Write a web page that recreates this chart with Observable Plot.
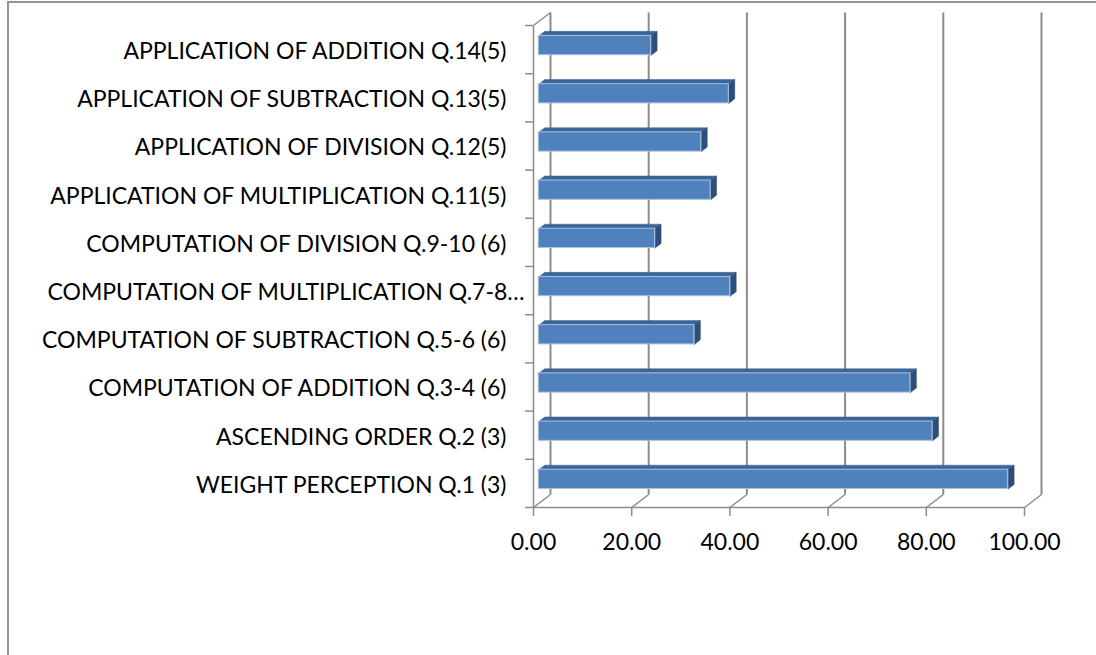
<!DOCTYPE html>
<html>
<head>
<meta charset="utf-8">
<script src="https://cdn.jsdelivr.net/npm/d3@7"></script>
<script src="https://cdn.jsdelivr.net/npm/@observablehq/plot@0.6"></script>
<style>
  html, body { margin: 0; padding: 0; background: #fff; overflow: hidden; }
  #frame { position: absolute; left: 7px; top: 1px; width: 1300px; height: 900px;
           border: 2px solid #959595; box-sizing: border-box; }
  #chart { position: absolute; left: 0; top: 0; }
</style>
</head>
<body>
<div id="frame"></div>
<div id="chart"></div>
<script>
// Categories listed bottom to top, with the mean score (%) of each item
const categories = [
  "WEIGHT PERCEPTION Q.1 (3)",
  "ASCENDING ORDER Q.2 (3)",
  "COMPUTATION OF ADDITION Q.3-4 (6)",
  "COMPUTATION OF SUBTRACTION Q.5-6 (6)",
  "COMPUTATION OF MULTIPLICATION Q.7-8…",
  "COMPUTATION OF DIVISION Q.9-10 (6)",
  "APPLICATION OF MULTIPLICATION Q.11(5)",
  "APPLICATION OF DIVISION Q.12(5)",
  "APPLICATION OF SUBTRACTION Q.13(5)",
  "APPLICATION OF ADDITION Q.14(5)"
];
const scores = [95.6, 80.2, 75.7, 31.7, 39.0, 23.7, 35.0, 33.1, 38.7, 22.9];
const xTicks = [0, 20, 40, 60, 80, 100];

// 3D box: offset of the back wall relative to the front plane (data units)
const DEPTH_X = 3.46;
const DEPTH_Y = 0.27;
// bars sit between these depth fractions; half thickness in category units
const F0 = 0.31, F1 = 0.66, HALF = 0.2;
const Y0 = -0.5, Y1 = categories.length - 0.5;

const bars = categories.map((category, i) => ({category, i, value: scores[i]}));

const shift = (x, y, f, id) => ({id, x: x + f * DEPTH_X, y: y + f * DEPTH_Y});

const topFaces = bars.flatMap(d => {
  const y = d.i + HALF;
  return [shift(0, y, F0, d.i), shift(d.value, y, F0, d.i), shift(d.value, y, F1, d.i),
          shift(0, y, F1, d.i), shift(0, y, F0, d.i)];
});
const endFaces = bars.flatMap(d => {
  const lo = d.i - HALF, hi = d.i + HALF;
  return [shift(d.value, lo, F0, d.i), shift(d.value, hi, F0, d.i), shift(d.value, hi, F1, d.i),
          shift(d.value, lo, F1, d.i), shift(d.value, lo, F0, d.i)];
});

const boundaries = d3.range(categories.length + 1).map(k => k - 0.5);
const gridColor = "#8c8c8c";
const truncated = d => d.category.endsWith("…");
const FONT = 23;

const chart = Plot.plot({
  width: 1096,
  height: 655,
  marginLeft: 533,
  marginRight: 72,
  marginTop: 25,
  marginBottom: 148,
  style: {fontFamily: "Lato, 'Open Sans', sans-serif", fontSize: FONT + "px", color: "#000", background: "transparent"},
  x: {domain: [0, 100], axis: null},
  y: {domain: [Y0, Y1], axis: null},
  marks: [
    // back wall gridlines
    Plot.link(xTicks, {x1: d => d + DEPTH_X, x2: d => d + DEPTH_X, y1: Y0 + DEPTH_Y, y2: Y1 + DEPTH_Y,
      stroke: gridColor, strokeWidth: 2}),
    // floor diagonals
    Plot.link(xTicks, {x1: d => d, y1: Y0, x2: d => d + DEPTH_X, y2: Y0 + DEPTH_Y,
      stroke: gridColor, strokeWidth: 1.5}),
    // left wall: front edge and top diagonal
    Plot.link([0], {x1: 0, x2: 0, y1: Y0, y2: Y1, stroke: gridColor, strokeWidth: 1.5}),
    Plot.link([0], {x1: 0, y1: Y1, x2: DEPTH_X, y2: Y1 + DEPTH_Y, stroke: gridColor, strokeWidth: 1.5}),
    // front baseline
    Plot.link([0], {x1: 0, x2: 100, y1: Y0, y2: Y0, stroke: gridColor, strokeWidth: 1.5}),
    // category tick marks
    Plot.axisY(boundaries, {anchor: "left", tickSize: 8, tickFormat: () => "", label: null,
      stroke: gridColor, strokeWidth: 1.5}),
    // x axis
    Plot.axisX(xTicks, {anchor: "bottom", tickSize: 9, tickPadding: 17, tickFormat: d3.format(".2f"), label: null,
      stroke: gridColor, strokeWidth: 1.5, fontSize: FONT, fill: "#000"}),
    // bar top and end faces
    Plot.line(topFaces, {x: "x", y: "y", z: "id", fill: "#3c6596", stroke: "#3c6596", strokeWidth: 0.5}),
    Plot.line(endFaces, {x: "x", y: "y", z: "id", fill: "#2d4e7b", stroke: "#2d4e7b", strokeWidth: 0.5}),
    // bar front faces
    Plot.rect(bars, {
      x1: F0 * DEPTH_X, x2: d => d.value + F0 * DEPTH_X,
      y1: d => d.i - HALF + F0 * DEPTH_Y, y2: d => d.i + HALF + F0 * DEPTH_Y,
      fill: "#4f81bd", stroke: "#a9c1df", strokeWidth: 1
    }),
    // category labels
    Plot.text(bars.filter(d => !truncated(d)), {x: 0, y: "i", text: "category", textAnchor: "end", dx: -27, dy: 2,
      fontSize: FONT, fill: "#000"}),
    Plot.text(bars.filter(truncated), {x: 0, y: "i", text: "category", textAnchor: "start", dx: -486, dy: 2,
      fontSize: FONT, fill: "#000"})
  ]
});

document.getElementById("chart").append(chart);
</script>
</body>
</html>
